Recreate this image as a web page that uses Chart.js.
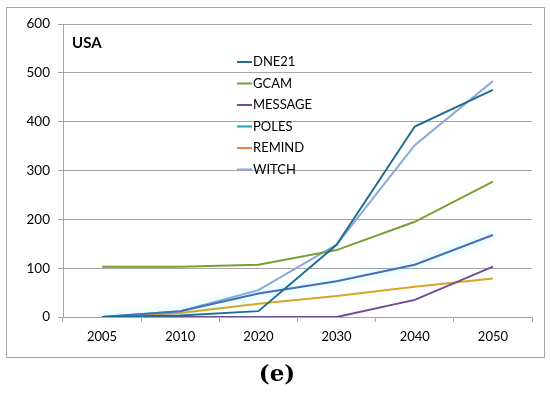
<!DOCTYPE html>
<html>
<head>
<meta charset="utf-8">
<script src="https://cdn.jsdelivr.net/npm/chart.js@4"></script>
<style>
  html, body { margin: 0; padding: 0; background: #fff; }
  #wrap { width: 550px; height: 399px; position: relative; }
</style>
</head>
<body>
<div id="wrap"><canvas id="myChart" width="550" height="399"></canvas></div>
<script>
const years = ['2005', '2010', '2020', '2030', '2040', '2050'];
const dne21 = [0, 3, 12, 148, 390, 465];
const gcam = [103, 103, 107, 137, 195, 277];
const message = [0, 0, 0, 0, 35, 103];
const poles = [0, 12, 48, 73, 107, 168];
const remind = [0, 8, 27, 43, 62, 79];
const witch = [0, 12, 55, 148, 352, 483];
const yTicks = [0, 100, 200, 300, 400, 500, 600];

const names = ['DNE21', 'GCAM', 'MESSAGE', 'POLES', 'REMIND', 'WITCH'];
const series = [dne21, gcam, message, poles, remind, witch];
const lineColors = ['#1F6E91', '#77A033', '#6E4E94', '#4A6DB8', '#D8A52A', '#8AA8D8'];
const legendColors = ['#1F6E91', '#77A033', '#6E4E94', '#1FA3AC', '#F0803A', '#8AA8D8'];

const FONT = 'Lato, "Open Sans", sans-serif';

// frame, title, legend and caption
const decor = {
    id: 'decor',
    beforeDraw(chart) {
        const c = chart.ctx;
        c.save();
        c.strokeStyle = '#A6A6A6';
        c.lineWidth = 1;
        c.strokeRect(6.5, 7.5, 538, 350);
        c.restore();
    },
    beforeDatasetDraw(chart, args) {
        if (args.meta.label === 'POLES') {
            chart.ctx.save();
            chart.ctx.shadowColor = 'rgba(0, 230, 255, 0.45)';
            chart.ctx.shadowBlur = 8;
        }
    },
    afterDatasetDraw(chart, args) {
        if (args.meta.label === 'POLES') chart.ctx.restore();
    },
    afterDraw(chart) {
        const c = chart.ctx;
        c.save();
        c.fillStyle = '#000';
        c.textBaseline = 'middle';
        c.font = 'bold 15px ' + FONT;
        c.fillText('USA', 72, 43);

        c.font = '13px ' + FONT;
        names.forEach((n, i) => {
            const y = 62 + i * 21.5;
            c.strokeStyle = legendColors[i];
            c.lineWidth = 2;
            c.beginPath();
            c.moveTo(237, y);
            c.lineTo(252, y);
            c.stroke();
            c.fillStyle = '#000';
            c.fillText(n, 253, y);
        });

        c.font = 'bold 23px "DejaVu Serif", serif';
        c.textAlign = 'center';
        c.fillText('(e)', 277, 375);
        c.restore();
    }
};

const ctx = document.getElementById('myChart').getContext('2d');
let chart = new Chart(ctx, {
    type: 'line',
    data: {
        labels: years,
        datasets: names.map((n, i) => ({
            label: n,
            data: series[i],
            borderColor: lineColors[i],
            backgroundColor: lineColors[i],
            borderWidth: 2,
            pointRadius: 0,
            tension: 0,
            fill: false
        }))
    },
    options: {
        responsive: false,
        animation: false,
        layout: { padding: { left: 0, top: 24, right: 18, bottom: 0 } },
        plugins: {
            legend: { display: false },
            tooltip: { enabled: false }
        },
        scales: {
            x: {
                offset: true,
                grid: {
                    offset: true,
                    drawOnChartArea: false,
                    drawTicks: true,
                    tickLength: 5,
                    color: '#A6A6A6'
                },
                border: { color: '#A6A6A6' },
                ticks: { color: '#000', font: { family: FONT, size: 13 }, padding: 7, maxRotation: 0 },
                afterFit: s => { s.height = 82; }
            },
            y: {
                min: 0,
                max: 600,
                afterBuildTicks: s => { s.ticks = yTicks.map(v => ({ value: v })); },
                grid: { color: '#A6A6A6', tickLength: 5 },
                border: { color: '#A6A6A6' },
                ticks: { color: '#000', font: { family: FONT, size: 13.5 }, padding: 8 },
                afterFit: s => { s.width = 63; }
            }
        }
    },
    plugins: [decor]
});
</script>
</body>
</html>
